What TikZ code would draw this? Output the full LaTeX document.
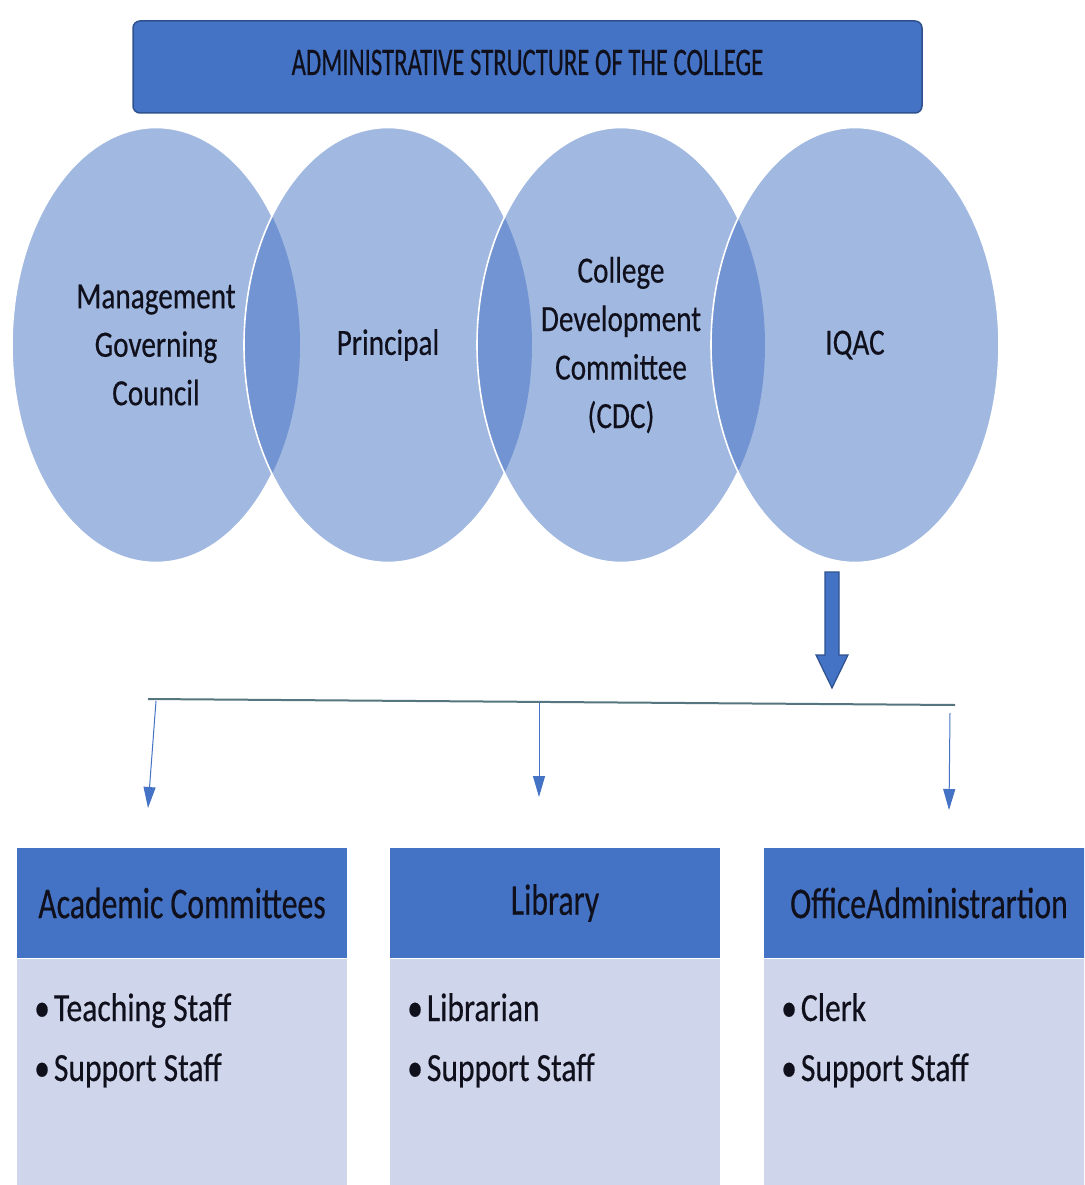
\documentclass[tikz,border=0pt]{standalone}
\usepackage{fontspec}
\setmainfont{Carlito}
\newfontfamily\titlefont[FakeStretch=0.635,FakeBold=0.4]{Carlito}
\newfontfamily\ellfont[FakeStretch=0.79,FakeBold=0.4]{Carlito}
\newfontfamily\headfont[FakeStretch=0.72,FakeBold=0.4]{Carlito}
\newfontfamily\bulfont[FakeStretch=0.79,FakeBold=0.4]{Carlito}
\usetikzlibrary{shapes.geometric,arrows.meta}
\definecolor{accent}{HTML}{4472C4}
\definecolor{accentdark}{HTML}{2F528F}
\definecolor{bodyfill}{HTML}{CFD5EA}
\definecolor{linegray}{HTML}{55767E}
\definecolor{ink}{HTML}{10101C}
\begin{document}
\begin{tikzpicture}[x=1pt,y=-1pt,
  titlebar/.style={draw=accentdark,line width=1.5pt,fill=accent,rounded corners=7pt,
    minimum width=789pt,minimum height=92pt,inner sep=0pt},
  titletext/.style={font=\titlefont\fontsize{39}{46}\selectfont,text=ink,inner sep=0pt},
  bubble/.style={ellipse,fill=accent,fill opacity=0.5,text opacity=1,draw=none,
    minimum width=288pt,minimum height=435pt,inner sep=0pt,align=center,text=ink,
    font=\ellfont\fontsize{37}{48.5}\selectfont},
  rim/.style={draw=white,line width=1.6pt},
  bigarrow/.style={fill=accent,draw=accentdark,line width=1.2pt},
  trunk/.style={draw=linegray,line width=2pt},
  branch/.style={draw=accent,line width=1pt,-{Triangle[width=12pt,length=21pt]}},
  headbox/.style={fill=accent,minimum width=330pt,minimum height=110pt,inner sep=0pt,
    text=ink,font=\headfont\fontsize{44}{52}\selectfont},
  bodybox/.style={fill=bodyfill,minimum width=330pt,minimum height=240pt,inner sep=0pt},
  bullet/.style={anchor=base west,inner sep=0pt,text=ink,font=\bulfont\fontsize{40}{48}\selectfont}
]
\useasboundingbox (0,0) rectangle (1084,1185);
\clip (0,0) rectangle (1084,1185);
\fill[white] (0,0) rectangle (1084,1185);

% title
\node[titlebar] (title) at (527.5,67) {};
\node[titletext,anchor=base] (titlelbl) at (527.5,75) {ADMINISTRATIVE STRUCTURE OF THE COLLEGE};

% bubbles
\node[bubble] (mgc) at (156,345) {Management\\Governing\\Council};
\node[bubble] (prin) at (388,345) {Principal};
\node[bubble] (cdc) at (621,345) {College\\Development\\Committee\\(CDC)};
\node[bubble] (iqac) at (855,345) {IQAC};

\begin{scope}
  \clip (0,0) rectangle (272,700);
  \draw[rim] (mgc.center) ellipse [x radius=144, y radius=217.5];
\end{scope}
\begin{scope}
  \clip (0,0) rectangle (504.5,700);
  \draw[rim] (prin.center) ellipse [x radius=144, y radius=217.5];
\end{scope}
\begin{scope}
  \clip (0,0) rectangle (738,700);
  \draw[rim] (cdc.center) ellipse [x radius=144, y radius=217.5];
\end{scope}
\draw[rim] (iqac.center) ellipse [x radius=144, y radius=217.5];

% big arrow
\coordinate (bigtop) at (832,572);
\coordinate (bigtip) at (832,688);
\path[bigarrow] (825,572) -- (839,572) -- (839,655) -- (848,655) -- (bigtip)
  -- (816,655) -- (825,655) -- cycle;

% trunk line
\coordinate (tl) at (148,699);
\coordinate (tr) at (955,705);
\draw[trunk] (tl) -- (tr);

% branch arrows
\coordinate (b1s) at (156,701);
\coordinate (b1e) at (148,808);
\coordinate (b2s) at (539,702);
\coordinate (b2e) at (539,797);
\coordinate (b3s) at (950,713);
\coordinate (b3e) at (949,810);
\draw[branch] (b1s) -- (b1e);
\draw[branch] (b2s) -- (b2e);
\draw[branch] (b3s) -- (b3e);

% bottom boxes
\node[bodybox,anchor=north] (acbody) at (182,957) {};
\node[bodybox,anchor=north] (libbody) at (555,957) {};
\node[bodybox,anchor=north] (offbody) at (929,957) {};
\node[headbox] (achead) at (182,903) {Academic Committees};
\node[headbox] (libhead) at (555,903) {Library};
\node[headbox] (offhead) at (929,903) {OfficeAdministrartion};
\draw[white,line width=1pt] (achead.south west) -- (achead.south east);
\draw[white,line width=1pt] (libhead.south west) -- (libhead.south east);
\draw[white,line width=1pt] (offhead.south west) -- (offhead.south east);

\node[bullet] (ac1) at (34,1021) {•\hspace{4pt}Teaching Staff};
\node[bullet] (ac2) at (34,1081) {•\hspace{4pt}Support Staff};
\node[bullet] (lib1) at (407,1021) {•\hspace{4pt}Librarian};
\node[bullet] (lib2) at (407,1081) {•\hspace{4pt}Support Staff};
\node[bullet] (off1) at (781,1021) {•\hspace{4pt}Clerk};
\node[bullet] (off2) at (781,1081) {•\hspace{4pt}Support Staff};
\end{tikzpicture}
\end{document}
